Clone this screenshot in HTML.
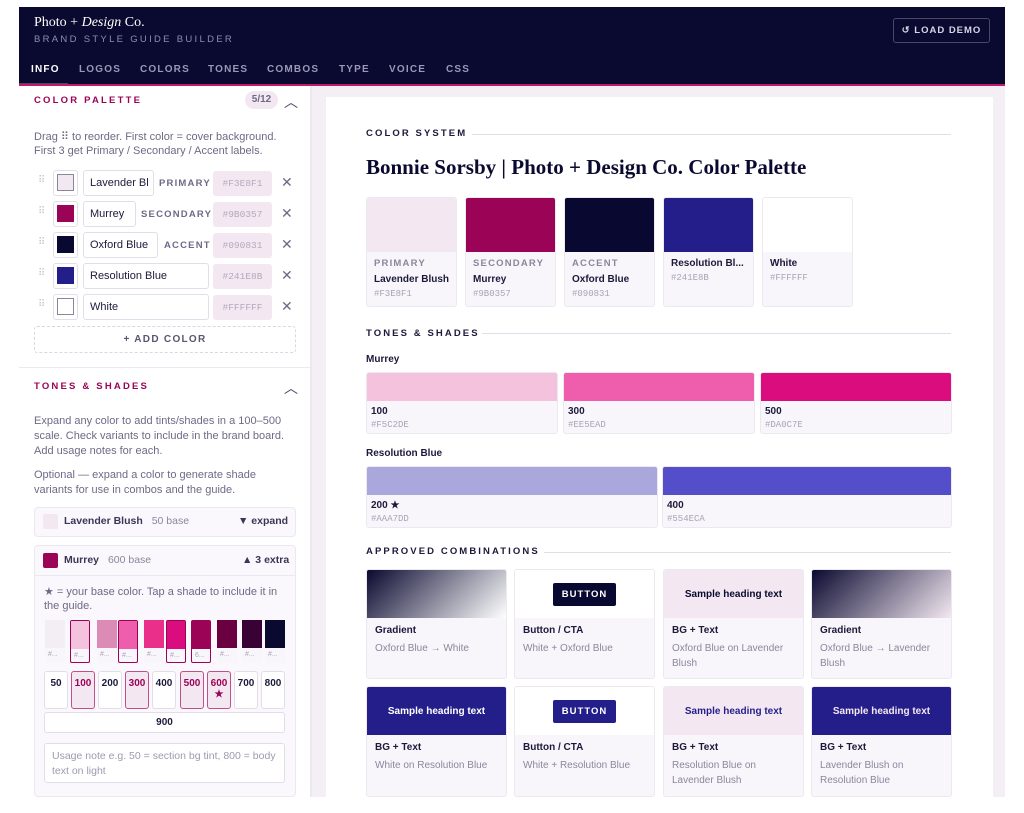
<!DOCTYPE html>
<html><head><meta charset="utf-8"><style>
*{box-sizing:border-box;margin:0;padding:0}
body{width:1024px;height:813px;background:#fff;position:relative;overflow:hidden;font-family:"Liberation Sans",sans-serif;color:#1c1a3a}
.a{position:absolute}
.t{position:absolute;white-space:nowrap}
.sec{font-size:9.5px;font-weight:bold;letter-spacing:2.1px;color:#1c1a3a}
.lab{font-size:9.5px;font-weight:bold;letter-spacing:2.2px;color:#9b0357}
.p{font-size:11px;color:#6e6a86}
.card{position:absolute;background:#f8f6fb;border:1px solid #ece8f0;border-radius:3px;overflow:hidden}
.mono{font-family:"Liberation Mono",monospace;font-size:9px;color:#a8a4b8;white-space:nowrap}
.cap{font-size:9.5px;font-weight:bold;letter-spacing:1.2px;color:#8a879c;white-space:nowrap}
.nm{font-size:10px;font-weight:bold;color:#1c1a3a;white-space:nowrap}
.box{position:absolute;border:1px solid #e2dde8;border-radius:3px;background:#fff}
.hex{position:absolute;background:#f3e8f1;border-radius:3px;font-family:"Liberation Mono",monospace;font-size:9.5px;color:#b3a9bb;text-align:center;line-height:25px}
.x{position:absolute;font-size:14px;color:#6e6a86}
.drag{position:absolute;font-size:10px;color:#c8c4d2}
.sw{position:absolute;border:1px solid #e2dde8;border-radius:3px;background:#fff}
.sw i{position:absolute;left:3px;top:3px;width:17px;height:17px;border:1px solid #8a879c}
.sb{position:absolute;top:671px;width:24px;height:38px;border:1px solid #e2dde8;border-radius:3px;background:#fff;font-size:10px;font-weight:bold;text-align:center;padding-top:6px;color:#1c1a3a}
.sb.on{background:#f3e8f1;border:1.5px solid #c0508a;color:#9b0357}
.shd{position:absolute;top:620px;width:20px;height:43px;background:#f8f6fb;border-radius:2px}
.shd.on{border:1.5px solid #9b0357}
.shd b{display:block;height:28px}
.shd span{display:block;font-size:7px;color:#a8a4b8;padding:3px 0 0 3px}
.cb .pv{height:48px;display:flex;align-items:center;justify-content:center;font-size:10px;font-weight:bold}
.cb .in{padding:7px 8px}
.cb .in .n{font-size:10px;font-weight:bold;color:#1c1a3a}
.cb .in .d{font-size:10px;color:#8a879c;margin-top:5px;line-height:15px}
.btn{font-size:9.5px;font-weight:bold;letter-spacing:1px;color:#fff;padding:6px 9px;border-radius:2px}
.tab{position:absolute;top:64px;font-size:10px;font-weight:bold;letter-spacing:1.2px;color:#9a98b6;white-space:nowrap}
</style></head><body>

<!-- header -->
<div class="a" style="left:19px;top:7px;width:986px;height:78px;background:#0a0930"></div>
<div class="a" style="left:19px;top:84px;width:986px;height:2px;background:#c0196e"></div>
<div class="t" style="left:34px;top:15px;font-family:'Liberation Serif',serif;font-size:14px;color:#fff">Photo + <i>Design</i> Co.</div>
<div class="t" style="left:34px;top:34px;font-size:9.5px;letter-spacing:2.3px;color:#8f8cae">BRAND STYLE GUIDE BUILDER</div>
<div class="a" style="left:893px;top:18px;width:97px;height:25px;border:1px solid #4a4866;border-radius:3px;font-size:9.5px;font-weight:bold;letter-spacing:1px;color:#d8d6e6;text-align:center;line-height:23px">↺ LOAD DEMO</div>
<div class="tab" style="left:31px;color:#fff">INFO</div>
<div class="a" style="left:19px;top:82px;width:49px;height:2px;background:#0a0930;border-bottom:1px solid #4a4866"></div>
<div class="tab" style="left:79px">LOGOS</div>
<div class="tab" style="left:140px">COLORS</div>
<div class="tab" style="left:208px">TONES</div>
<div class="tab" style="left:267px">COMBOS</div>
<div class="tab" style="left:339px">TYPE</div>
<div class="tab" style="left:389px">VOICE</div>
<div class="tab" style="left:446px">CSS</div>

<!-- left panel -->
<div class="a" style="left:310px;top:86px;width:2px;height:711px;background:#ece8f0"></div>
<div class="t lab" style="left:34px;top:95px">COLOR PALETTE</div>
<div class="a" style="left:245px;top:91px;width:33px;height:18px;background:#f3e8f1;border-radius:9px;font-size:10px;font-weight:bold;color:#6e6a86;text-align:center;line-height:18px">5/12</div>
<div class="t" style="left:284px;top:92px;font-size:14px;color:#4a4866">︿</div>
<div class="t p" style="left:34px;top:130px">Drag ⠿ to reorder. First color = cover background.</div>
<div class="t p" style="left:34px;top:145px">First 3 get Primary / Secondary / Accent labels.</div>

<div class="drag" style="left:38px;top:175px">⠿</div>
<div class="sw" style="left:53px;top:170px;width:25px;height:26px"><i style="background:#f3e8f1"></i></div>
<div class="box" style="left:83px;top:170px;width:71px;height:26px;font-size:11px;padding:6px 6px;overflow:hidden;white-space:nowrap">Lavender Bl</div>
<div class="t cap" style="left:159px;top:178px;color:#6e6a86">PRIMARY</div>
<div class="hex" style="left:213px;top:171px;width:59px;height:25px">#F3E8F1</div>
<div class="x" style="left:281px;top:174px">✕</div>

<div class="drag" style="left:38px;top:206px">⠿</div>
<div class="sw" style="left:53px;top:201px;width:25px;height:26px"><i style="background:#9b0357;border-color:#9b0357"></i></div>
<div class="box" style="left:83px;top:201px;width:53px;height:26px;font-size:11px;padding:6px 6px">Murrey</div>
<div class="t cap" style="left:141px;top:209px;color:#6e6a86">SECONDARY</div>
<div class="hex" style="left:213px;top:202px;width:59px;height:25px">#9B0357</div>
<div class="x" style="left:281px;top:205px">✕</div>

<div class="drag" style="left:38px;top:237px">⠿</div>
<div class="sw" style="left:53px;top:232px;width:25px;height:26px"><i style="background:#090831;border-color:#090831"></i></div>
<div class="box" style="left:83px;top:232px;width:75px;height:26px;font-size:11px;padding:6px 6px">Oxford Blue</div>
<div class="t cap" style="left:164px;top:240px;color:#6e6a86">ACCENT</div>
<div class="hex" style="left:213px;top:233px;width:59px;height:25px">#090831</div>
<div class="x" style="left:281px;top:236px">✕</div>

<div class="drag" style="left:38px;top:268px">⠿</div>
<div class="sw" style="left:53px;top:263px;width:25px;height:26px"><i style="background:#241e8b;border-color:#241e8b"></i></div>
<div class="box" style="left:83px;top:263px;width:126px;height:26px;font-size:11px;padding:6px 6px">Resolution Blue</div>
<div class="hex" style="left:213px;top:264px;width:59px;height:25px">#241E8B</div>
<div class="x" style="left:281px;top:267px">✕</div>

<div class="drag" style="left:38px;top:299px">⠿</div>
<div class="sw" style="left:53px;top:294px;width:25px;height:26px"><i style="background:#fff"></i></div>
<div class="box" style="left:83px;top:294px;width:126px;height:26px;font-size:11px;padding:6px 6px">White</div>
<div class="hex" style="left:213px;top:295px;width:59px;height:25px">#FFFFFF</div>
<div class="x" style="left:281px;top:298px">✕</div>

<div class="a" style="left:34px;top:326px;width:262px;height:27px;border:1px dashed #ddd6e2;border-radius:3px;font-size:10px;font-weight:bold;letter-spacing:1.3px;color:#5a5670;text-align:center;line-height:25px">+ ADD COLOR</div>
<div class="a" style="left:19px;top:367px;width:291px;height:1px;background:#ece8f0"></div>
<div class="t lab" style="left:34px;top:381px">TONES &amp; SHADES</div>
<div class="t" style="left:284px;top:378px;font-size:14px;color:#4a4866">︿</div>
<div class="t p" style="left:34px;top:415px">Expand any color to add tints/shades in a 100–500</div>
<div class="t p" style="left:34px;top:430px">scale. Check variants to include in the brand board.</div>
<div class="t p" style="left:34px;top:445px">Add usage notes for each.</div>
<div class="t p" style="left:34px;top:469px">Optional — expand a color to generate shade</div>
<div class="t p" style="left:34px;top:484px">variants for use in combos and the guide.</div>

<div class="a" style="left:34px;top:507px;width:262px;height:30px;border:1px solid #ece8f0;border-radius:4px;background:#faf8fc"></div>
<div class="a" style="left:43px;top:514px;width:15px;height:15px;background:#f3e8f1;border-radius:2px"></div>
<div class="t" style="left:64px;top:515px;font-size:10.5px;font-weight:bold;color:#3a3656">Lavender Blush <span style="font-weight:normal;color:#8a879c;margin-left:6px">50 base</span></div>
<div class="t" style="left:238px;top:515px;font-size:10.5px;font-weight:bold;color:#3a3656">▼ expand</div>

<div class="a" style="left:34px;top:545px;width:262px;height:252px;border:1px solid #ece8f0;border-radius:4px;background:#faf8fc"></div>
<div class="a" style="left:34px;top:575px;width:262px;height:1px;background:#ece8f0"></div>
<div class="a" style="left:43px;top:553px;width:15px;height:15px;background:#9b0357;border-radius:2px"></div>
<div class="t" style="left:64px;top:554px;font-size:10.5px;font-weight:bold;color:#3a3656">Murrey <span style="font-weight:normal;color:#8a879c;margin-left:6px">600 base</span></div>
<div class="t" style="left:242px;top:554px;font-size:10.5px;font-weight:bold;color:#3a3656">▲ 3 extra</div>
<div class="t p" style="left:44px;top:585px">★ = your base color. Tap a shade to include it in</div>
<div class="t p" style="left:44px;top:600px">the guide.</div>

<div class="shd" style="left:45px"><b style="background:#f3eef4"></b><span>#...</span></div>
<div class="shd on" style="left:70px"><b style="background:#f5c2de"></b><span>#...</span></div>
<div class="shd" style="left:97px"><b style="background:#dc8ab6"></b><span>#...</span></div>
<div class="shd on" style="left:118px"><b style="background:#ee5ead"></b><span>#...</span></div>
<div class="shd" style="left:144px"><b style="background:#ea2f8b"></b><span>#...</span></div>
<div class="shd on" style="left:166px"><b style="background:#da0c7e"></b><span>#...</span></div>
<div class="shd on" style="left:191px"><b style="background:#9b0357"></b><span>6...</span></div>
<div class="shd" style="left:217px"><b style="background:#6a0040"></b><span>#...</span></div>
<div class="shd" style="left:242px"><b style="background:#380234"></b><span>#...</span></div>
<div class="shd" style="left:265px"><b style="background:#0a0930"></b><span>#...</span></div>

<div class="sb" style="left:44px">50</div>
<div class="sb on" style="left:71px">100</div>
<div class="sb" style="left:98px">200</div>
<div class="sb on" style="left:125px">300</div>
<div class="sb" style="left:152px">400</div>
<div class="sb on" style="left:180px">500</div>
<div class="sb on" style="left:207px">600<br>★</div>
<div class="sb" style="left:234px">700</div>
<div class="sb" style="left:261px">800</div>
<div class="a" style="left:44px;top:712px;width:241px;height:21px;border:1px solid #e2dde8;border-radius:3px;background:#fff;font-size:10px;font-weight:bold;text-align:center;line-height:19px">900</div>
<div class="a" style="left:44px;top:743px;width:241px;height:40px;border:1px solid #e2dde8;border-radius:3px;background:#fff;font-size:10.5px;color:#9e9ab0;padding:5px 7px;line-height:15px">Usage note e.g. 50 = section bg tint, 800 = body text on light</div>

<!-- right area -->
<div class="a" style="left:312px;top:86px;width:693px;height:711px;background:#f4eef5"></div>
<div class="a" style="left:326px;top:97px;width:667px;height:700px;background:#fff"></div>

<div class="t sec" style="left:366px;top:128px">COLOR SYSTEM</div>
<div class="a" style="left:472px;top:134px;width:479px;height:1px;background:#e2dde8"></div>
<div class="t" style="left:366px;top:155px;font-family:'Liberation Serif',serif;font-weight:bold;font-size:21px;color:#0a0930">Bonnie Sorsby | Photo + Design Co. Color Palette</div>

<div class="card" style="left:366px;top:197px;width:91px;height:110px"><div style="height:54px;background:#f3e8f1"></div><div style="padding:6px 7px"><div class="cap">PRIMARY</div><div class="nm" style="margin-top:5px">Lavender Blush</div><div class="mono" style="margin-top:4px">#F3E8F1</div></div></div>
<div class="card" style="left:465px;top:197px;width:91px;height:110px"><div style="height:54px;background:#9b0357"></div><div style="padding:6px 7px"><div class="cap">SECONDARY</div><div class="nm" style="margin-top:5px">Murrey</div><div class="mono" style="margin-top:4px">#9B0357</div></div></div>
<div class="card" style="left:564px;top:197px;width:91px;height:110px"><div style="height:54px;background:#090831"></div><div style="padding:6px 7px"><div class="cap">ACCENT</div><div class="nm" style="margin-top:5px">Oxford Blue</div><div class="mono" style="margin-top:4px">#090831</div></div></div>
<div class="card" style="left:663px;top:197px;width:91px;height:110px"><div style="height:54px;background:#241e8b"></div><div style="padding:6px 7px"><div class="nm">Resolution Bl...</div><div class="mono" style="margin-top:4px">#241E8B</div></div></div>
<div class="card" style="left:762px;top:197px;width:91px;height:110px"><div style="height:54px;background:#fff"></div><div style="padding:6px 7px"><div class="nm">White</div><div class="mono" style="margin-top:4px">#FFFFFF</div></div></div>

<div class="t sec" style="left:366px;top:328px">TONES &amp; SHADES</div>
<div class="a" style="left:482px;top:333px;width:469px;height:1px;background:#e2dde8"></div>
<div class="t nm" style="left:366px;top:354px">Murrey</div>
<div class="card" style="left:366px;top:372px;width:192px;height:62px"><div style="height:28px;background:#f5c2de"></div><div style="padding:5px 4px"><div class="nm">100</div><div class="mono" style="margin-top:3px">#F5C2DE</div></div></div>
<div class="card" style="left:563px;top:372px;width:192px;height:62px"><div style="height:28px;background:#ee5ead"></div><div style="padding:5px 4px"><div class="nm">300</div><div class="mono" style="margin-top:3px">#EE5EAD</div></div></div>
<div class="card" style="left:760px;top:372px;width:192px;height:62px"><div style="height:28px;background:#da0c7e"></div><div style="padding:5px 4px"><div class="nm">500</div><div class="mono" style="margin-top:3px">#DA0C7E</div></div></div>
<div class="t nm" style="left:366px;top:448px">Resolution Blue</div>
<div class="card" style="left:366px;top:466px;width:292px;height:62px"><div style="height:28px;background:#aaa7dd"></div><div style="padding:5px 4px"><div class="nm">200 ★</div><div class="mono" style="margin-top:3px">#AAA7DD</div></div></div>
<div class="card" style="left:662px;top:466px;width:290px;height:62px"><div style="height:28px;background:#554eca"></div><div style="padding:5px 4px"><div class="nm">400</div><div class="mono" style="margin-top:3px">#554ECA</div></div></div>

<div class="t sec" style="left:366px;top:546px">APPROVED COMBINATIONS</div>
<div class="a" style="left:544px;top:552px;width:407px;height:1px;background:#e2dde8"></div>

<div class="card cb" style="left:366px;top:569px;width:141px;height:110px"><div class="pv" style="background:linear-gradient(135deg,#0a0930,#fff)"></div><div class="in"><div class="n">Gradient</div><div class="d">Oxford Blue → White</div></div></div>
<div class="card cb" style="left:514px;top:569px;width:141px;height:110px"><div class="pv" style="background:#fff"><span class="btn" style="background:#090831">BUTTON</span></div><div class="in"><div class="n">Button / CTA</div><div class="d">White + Oxford Blue</div></div></div>
<div class="card cb" style="left:663px;top:569px;width:141px;height:110px"><div class="pv" style="background:#f3e8f1;color:#0a0930">Sample heading text</div><div class="in"><div class="n">BG + Text</div><div class="d">Oxford Blue on Lavender Blush</div></div></div>
<div class="card cb" style="left:811px;top:569px;width:141px;height:110px"><div class="pv" style="background:linear-gradient(135deg,#0a0930,#f3e8f1)"></div><div class="in"><div class="n">Gradient</div><div class="d">Oxford Blue → Lavender Blush</div></div></div>

<div class="card cb" style="left:366px;top:686px;width:141px;height:111px"><div class="pv" style="background:#241e8b;color:#fff">Sample heading text</div><div class="in"><div class="n">BG + Text</div><div class="d">White on Resolution Blue</div></div></div>
<div class="card cb" style="left:514px;top:686px;width:141px;height:111px"><div class="pv" style="background:#fff"><span class="btn" style="background:#241e8b">BUTTON</span></div><div class="in"><div class="n">Button / CTA</div><div class="d">White + Resolution Blue</div></div></div>
<div class="card cb" style="left:663px;top:686px;width:141px;height:111px"><div class="pv" style="background:#f3e8f1;color:#241e8b">Sample heading text</div><div class="in"><div class="n">BG + Text</div><div class="d">Resolution Blue on Lavender Blush</div></div></div>
<div class="card cb" style="left:811px;top:686px;width:141px;height:111px"><div class="pv" style="background:#241e8b;color:#f3e8f1">Sample heading text</div><div class="in"><div class="n">BG + Text</div><div class="d">Lavender Blush on Resolution Blue</div></div></div>

</body></html>
